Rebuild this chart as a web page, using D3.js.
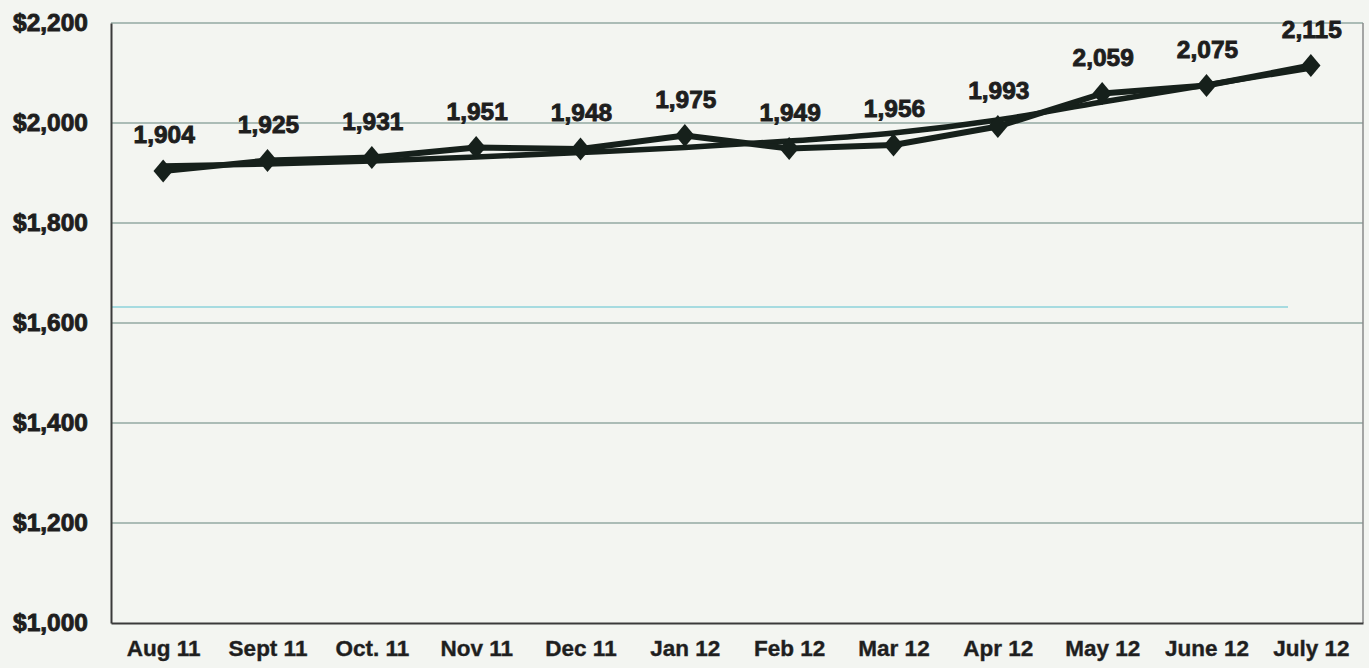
<!DOCTYPE html>
<html lang="en">
<head>
<meta charset="UTF-8">
<title>Monthly values Aug 11 - July 12</title>
<script src="https://cdnjs.cloudflare.com/ajax/libs/d3/7.8.5/d3.min.js"></script>
<style>
  body { margin: 0; background: #f3f5f1; }
  svg { display: block; }
  .tick text { font-family: "Liberation Sans", Arial, sans-serif; font-weight: bold; fill: #1e1e1e; }
</style>
</head>
<body>
<div id="chart"></div>
<script>
    // data
    var months = ["Aug 11", "Sept 11", "Oct. 11", "Nov 11", "Dec 11", "Jan 12",
                  "Feb 12", "Mar 12", "Apr 12", "May 12", "June 12", "July 12"];
    var values = [1904, 1925, 1931, 1951, 1948, 1975, 1949, 1956, 1993, 2059, 2075, 2115];
    // curved trend line drawn through the series
    var trend  = [1914, 1918, 1924, 1932, 1941, 1951, 1964, 1980, 2006, 2042, 2076, 2110];
    var yTicks = [1000, 1200, 1400, 1600, 1800, 2000, 2200];
    var faintLine = [1632]; // faint cyan line showing through the scan

    var W = 1369, H = 668;
    var margin = {top: 23, right: 6, bottom: 45, left: 111};
    var width = W - margin.left - margin.right,
        height = H - margin.top - margin.bottom;

    var x = d3.scalePoint()
        .domain(months)
        .range([0, width])
        .padding(0.5);

    var y = d3.scaleLinear()
        .domain([1000, 2200])
        .range([height, 0]);

    var svg = d3.select("#chart")
        .append("svg")
        .attr("width", W)
        .attr("height", H)
        .append("g")
        .attr("transform", "translate(" + margin.left + "," + margin.top + ")");

    // gridlines
    svg.append("g")
        .selectAll("line")
        .data(yTicks.slice(1))
        .enter().append("line")
        .attr("x1", 0)
        .attr("x2", width)
        .attr("y1", function (d) { return y(d); })
        .attr("y2", function (d) { return y(d); })
        .attr("stroke", "#93a8a2")
        .attr("stroke-width", 1.5);

    svg.selectAll(".faint")
        .data(faintLine)
        .enter().append("line")
        .attr("class", "faint")
        .attr("x1", 0)
        .attr("x2", width - 75)
        .attr("y1", function (d) { return y(d); })
        .attr("y2", function (d) { return y(d); })
        .attr("stroke", "#a6dbe0")
        .attr("stroke-width", 2);

    // right border
    svg.append("line")
        .attr("x1", width).attr("x2", width)
        .attr("y1", 0).attr("y2", height)
        .attr("stroke", "#8a8a8a")
        .attr("stroke-width", 1.5);

    // y axis
    var yAxis = d3.axisLeft(y)
        .tickValues(yTicks)
        .tickSize(0)
        .tickPadding(23)
        .tickFormat(function (d) { return "$" + d3.format(",")(d); });

    svg.append("g")
        .attr("class", "y axis")
        .call(yAxis)
        .call(function (g) {
            g.select(".domain").attr("stroke", "#3a3a3a").attr("stroke-width", 2);
            g.selectAll("text").style("font-size", "24.5px").attr("stroke", "#1e1e1e").attr("stroke-width", 0.9);
        });

    // x axis
    var xAxis = d3.axisBottom(x)
        .tickSize(0)
        .tickPadding(17);

    svg.append("g")
        .attr("class", "x axis")
        .attr("transform", "translate(0," + height + ")")
        .call(xAxis)
        .call(function (g) {
            g.select(".domain").attr("stroke", "#3a3a3a").attr("stroke-width", 2);
            g.selectAll("text").style("font-size", "22.5px").attr("stroke", "#2a2a2a").attr("stroke-width", 0.4);
        });

    var line = d3.line()
        .x(function (d, i) { return x(months[i]); })
        .y(function (d) { return y(d); });

    var trendLine = d3.line()
        .x(function (d, i) { return x(months[i]); })
        .y(function (d) { return y(d); })
        .curve(d3.curveMonotoneX);

    svg.append("path")
        .datum(trend)
        .attr("fill", "none")
        .attr("stroke", "#16201b")
        .attr("stroke-width", 5.5)
        .attr("d", trendLine);

    svg.append("path")
        .datum(values)
        .attr("fill", "none")
        .attr("stroke", "#16201b")
        .attr("stroke-width", 6)
        .attr("stroke-linejoin", "round")
        .attr("d", line);

    // diamond markers
    var diamond = d3.symbol().type(d3.symbolDiamond2).size(330);
    svg.selectAll(".marker")
        .data(values)
        .enter().append("path")
        .attr("class", "marker")
        .attr("d", diamond)
        .attr("fill", "#16201b")
        .attr("transform", function (d, i) {
            return "translate(" + x(months[i]) + "," + y(d) + ") scale(0.85,1)";
        });

    // value labels
    svg.selectAll(".label")
        .data(values)
        .enter().append("text")
        .attr("class", "label")
        .attr("x", function (d, i) { return x(months[i]) + 1; })
        .attr("y", function (d) { return y(d) - 28; })
        .attr("text-anchor", "middle")
        .style("font-family", "'Liberation Sans', Arial, sans-serif")
        .style("font-weight", "bold")
        .style("font-size", "24.5px")
        .attr("fill", "#1e1e1e")
        .attr("stroke", "#1e1e1e")
        .attr("stroke-width", 0.9)
        .text(function (d) { return d3.format(",")(d); });
</script>
</body>
</html>
